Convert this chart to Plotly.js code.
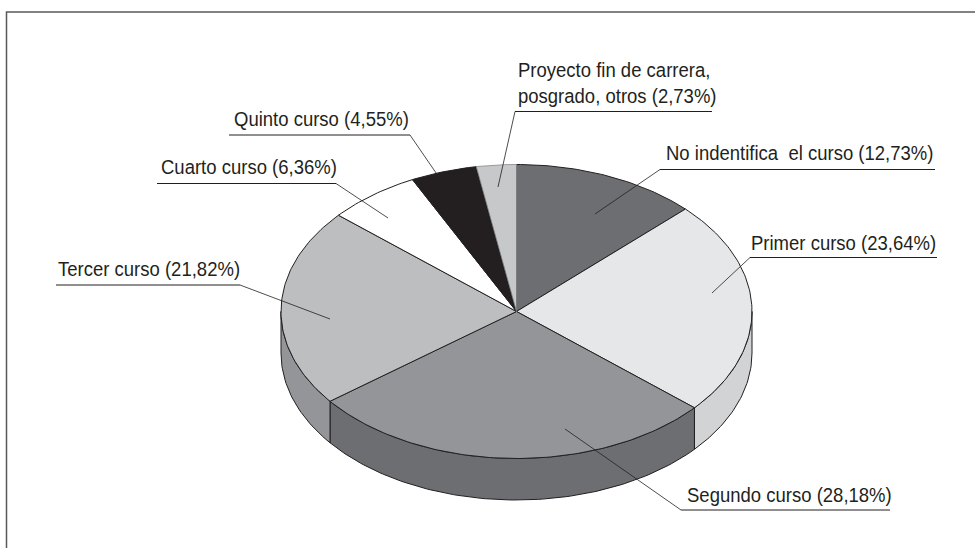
<!DOCTYPE html>
<html>
<head>
<meta charset="utf-8">
<script src="https://cdn.plot.ly/plotly-3.0.1.min.js"></script>
<style>
html,body{margin:0;padding:0;background:#fff;overflow:hidden}
#chart{width:975px;height:548px}
.annotation-text{transform-box:fill-box;transform-origin:0 50%;transform:scaleX(.95)}
</style>
</head>
<body>
<div id="chart"></div>
<script>
// Chart values, in drawing order (clockwise from 12 o'clock)
const categories = ["No indentifica  el curso", "Primer curso", "Segundo curso", "Tercer curso", "Cuarto curso", "Quinto curso", "Proyecto fin de carrera,<br>posgrado, otros"];
const percentages = [12.73, 23.64, 28.18, 21.82, 6.36, 4.55, 2.73];
const topColors = ["#6d6e71", "#e6e7e8", "#939598", "#bcbec0", "#ffffff", "#231f20", "#c7c8ca"];
const wallColors = ["#58595b", "#d1d3d4", "#6d6e71", "#939598", "#dddddd", "#111111", "#a7a9ac"];

// Geometry
const W = 975, H = 548;
const cx = 516.5, cy = 311.5, rx = 235.5, ry = 147, depth = 41.5;
const INK = "#231f20";
const FONT = "'Liberation Sans',Arial,sans-serif";
const FS = 19.5;

// label placement: text x, text baseline y, underline [x0,x1], underline y, leader end
const place = [
  {tx:665, by:161, u0:660, u1:935, uy:169.5, ex:595, ey:214},
  {tx:750, by:250, u0:750, u1:937, uy:257.5, ex:712, ey:293},
  {tx:686, by:502, u0:681, u1:890, uy:510, ex:565, ey:429},
  {tx:57,  by:276, u0:56,  u1:240, uy:285, ex:330, ey:319, right:true},
  {tx:160, by:175, u0:157, u1:336, uy:183.5, ex:388, ey:218, right:true},
  {tx:233, by:126, u0:229, u1:410, uy:135, ex:445, ey:186, right:true},
  {tx:517, by:102, u0:515, u1:712, uy:111.5, ex:498, ey:187}
];

const total = percentages.reduce((a, b) => a + b, 0);
const rad = d => d * Math.PI / 180;
const ux = a => Math.sin(rad(a));
const uy = a => Math.cos(rad(a));
function arc(a0, a1) {
  const n = Math.max(2, Math.ceil(Math.abs(a1 - a0)));
  const pts = [];
  for (let i = 0; i <= n; i++) pts.push(a0 + (a1 - a0) * i / n);
  return pts;
}
const d = depth / ry;
const traces = [];
let start = 0;
const spans = percentages.map(v => { const s = [start, start + v / total * 360]; start = s[1]; return s; });

// Side wall: only the front half of the disc (90 to 270 degrees) is visible
spans.forEach((s, i) => {
  const a0 = Math.max(s[0], 90), a1 = Math.min(s[1], 270);
  if (a1 <= a0) return;
  const top = arc(a0, a1), bot = arc(a1, a0);
  const x = top.map(ux).concat(bot.map(ux)); x.push(x[0]);
  const y = top.map(uy).concat(bot.map(a => uy(a) - d)); y.push(y[0]);
  traces.push({type:"scatter", mode:"lines", x, y, fill:"toself", fillcolor:wallColors[i],
    line:{color:INK, width:1}, hoverinfo:"skip", showlegend:false, name:categories[i]});
});

// Top face
spans.forEach((s, i) => {
  const a = arc(s[0], s[1]);
  const x = [0].concat(a.map(ux), [0]);
  const y = [0].concat(a.map(uy), [0]);
  const dim = i === 6;
  traces.push({type:"scatter", mode:"lines", x, y, fill:"toself", fillcolor:topColors[i],
    line:{color: dim ? "#808285" : INK, width: dim ? 0.75 : 1}, hoverinfo:"skip", showlegend:false, name:categories[i]});
});

const px = x => x / W, py = y => 1 - y / H;
const shapes = [
  {type:"path", layer:"above", xref:"paper", yref:"paper",
   path:`M ${px(6.5)} ${py(H)} L ${px(6.5)} ${py(12)} L ${px(W)} ${py(12)}`,
   line:{color:"#58595b", width:1.5}}
];
place.forEach(p => {
  const sx = p.right ? p.u1 : p.u0;
  shapes.push({type:"line", layer:"above", xref:"paper", yref:"paper", x0:px(p.u0), x1:px(p.u1), y0:py(p.uy), y1:py(p.uy), line:{color:INK, width:1}});
  shapes.push({type:"line", layer:"above", xref:"paper", yref:"paper", x0:px(sx), x1:px(p.ex), y0:py(p.uy), y1:py(p.ey), line:{color:INK, width:0.8}});
});
const annotations = categories.map((c, i) => ({
  xref:"paper", yref:"paper", x:px(place[i].tx), y:py(place[i].by + 5.5),
  xanchor:"left", yanchor:"bottom", align:"left", showarrow:false, borderpad:0,
  text:c + " (" + percentages[i].toFixed(2).replace(".", ",") + "%)",
  font:{family:FONT, size:FS, color:INK}
}));

const layout = {
  width:W, height:H, margin:{l:0, r:0, t:0, b:0, pad:0},
  paper_bgcolor:"#ffffff", plot_bgcolor:"#ffffff", showlegend:false,
  xaxis:{visible:false, range:[(0 - cx) / rx, (W - cx) / rx], fixedrange:true},
  yaxis:{visible:false, range:[(cy - H) / ry, cy / ry], fixedrange:true},
  shapes, annotations, hovermode:false
};
Plotly.newPlot("chart", traces, layout, {displayModeBar:false, staticPlot:true});
</script>
</body>
</html>
